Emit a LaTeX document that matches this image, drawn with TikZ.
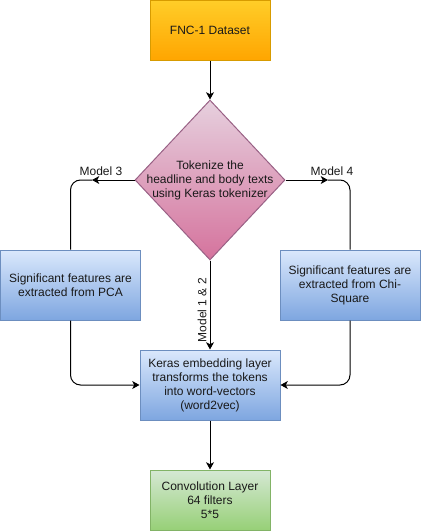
\documentclass[tikz,border=0pt]{standalone}
\usepackage{fontspec}
\setmainfont{Liberation Sans}
\usetikzlibrary{shapes.geometric,arrows.meta}
\definecolor{orangetop}{RGB}{255,205,40}
\definecolor{orangebot}{RGB}{255,165,0}
\definecolor{orangeline}{RGB}{215,155,0}
\definecolor{pinktop}{RGB}{230,208,222}
\definecolor{pinkbot}{RGB}{213,115,157}
\definecolor{pinkline}{RGB}{153,97,133}
\definecolor{bluetop}{RGB}{218,232,252}
\definecolor{bluebot}{RGB}{126,166,224}
\definecolor{blueline}{RGB}{108,142,191}
\definecolor{greentop}{RGB}{213,232,212}
\definecolor{greenbot}{RGB}{151,208,119}
\definecolor{greenline}{RGB}{130,179,102}

\begin{document}
\begin{tikzpicture}[x=0.75pt,y=0.75pt,yscale=-1,xscale=1,
    every node/.style={font=\fontsize{9}{10.5}\selectfont, text=black!90},
    box/.style={rectangle, line width=0.75pt, align=center, inner sep=0pt},
    orangebox/.style={box, draw=orangeline, top color=orangetop, bottom color=orangebot, minimum width=90pt, minimum height=45pt},
    bluebox/.style={box, draw=blueline, top color=bluetop, bottom color=bluebot, minimum width=105pt, minimum height=52.5pt},
    greenbox/.style={box, draw=greenline, top color=greentop, bottom color=greenbot, minimum width=90pt, minimum height=45pt},
    decision/.style={diamond, draw=pinkline, line width=0.75pt, top color=pinktop, bottom color=pinkbot, minimum width=112.5pt, minimum height=120pt, inner sep=0pt},
    line/.style={line width=0.75pt, -{Stealth[length=5.5pt,width=6pt,inset=1.5pt]}},
    plain/.style={line width=0.75pt, rounded corners=7.5pt}
  ]
    \useasboundingbox (0,0) rectangle (421,531);

    % boxes
    \node [orangebox] (fnc) at (210,30.5) {FNC-1 Dataset};
    \node [decision] (tok) at (210,180) {};
    \node [align=center] (toktext) at (210,180) {Tokenize the\\headline and body texts\\using Keras tokenizer};
    \node [bluebox] (pca) at (70.5,285) {Significant features are\\extracted from PCA};
    \node [bluebox] (chi) at (350,285) {Significant features are\\extracted from Chi-\\Square};
    \node [bluebox] (keras) at (210,385) {Keras embedding layer\\transforms the tokens\\into word-vectors\\(word2vec)};
    \node [greenbox] (conv) at (210,500) {Convolution Layer\\64 filters\\5*5};

    % connectors
    \coordinate (m3) at (92,180);
    \coordinate (m4) at (328,180);
    \draw [line] (fnc) -- (tok);
    \draw [line] (tok.west) -- (m3);
    \draw [plain] (m3) -| (pca.north);
    \draw [line] (tok.east) -- (m4);
    \draw [plain] (m4) -| (chi.north);
    \draw [line] (tok.south) -- (keras.north);
    \draw [line, rounded corners=7.5pt] (pca.south) |- (keras.west);
    \draw [line, rounded corners=7.5pt] (chi.south) |- (keras.east);
    \draw [line] (keras) -- (conv);

    % labels
    \node (lab3) at (101,171) {Model 3};
    \node (lab4) at (332,171) {Model 4};
    \node [rotate=90] (lab12) at (202,310) {Model 1 \& 2};

\end{tikzpicture}
\end{document}
